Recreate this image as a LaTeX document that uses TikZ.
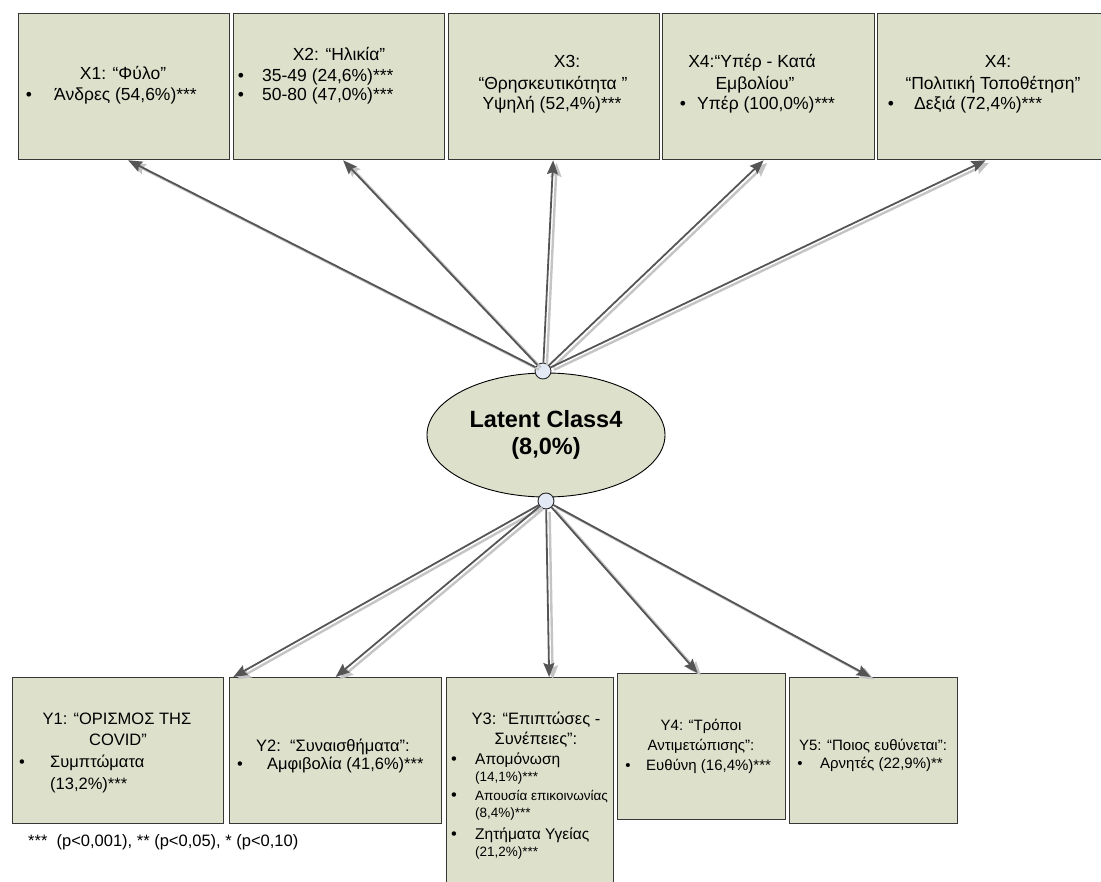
\documentclass[tikz,border=0pt]{standalone}
\usepackage{fontspec}
\setmainfont{Liberation Sans}
\usetikzlibrary{shapes.geometric,arrows.meta}
\definecolor{boxfill}{RGB}{221,225,204}
\definecolor{boxline}{RGB}{55,55,55}
\definecolor{linecol}{RGB}{85,85,85}
\definecolor{shadcol}{RGB}{196,196,196}
\definecolor{dotfill}{RGB}{228,234,245}
\begin{document}
\begin{tikzpicture}[x=1pt,y=-1pt,
  box/.style={draw=boxline, line width=1.3pt, fill=boxfill, anchor=north west, inner sep=0pt},
  ttop/.style={font=\fontsize{17.5}{20}\selectfont, inner sep=0pt, anchor=mid},
  ttopl/.style={ttop, anchor=mid west},
  tbot/.style={font=\fontsize{16.5}{19}\selectfont, inner sep=0pt, anchor=mid},
  tbotl/.style={tbot, anchor=mid west},
  tnar/.style={font=\fontsize{15}{18}\selectfont, inner sep=0pt, anchor=mid},
  tnarl/.style={tnar, anchor=mid west},
  tsml/.style={font=\fontsize{13.5}{16}\selectfont, inner sep=0pt, anchor=mid west},
  tmidl/.style={font=\fontsize{15.5}{18}\selectfont, inner sep=0pt, anchor=mid west},
  dot/.style={circle, draw=black!85, line width=0.9pt, fill=dotfill, minimum size=16pt, inner sep=0pt},
  conn/.style={draw=linecol, line width=1.8pt, -{Stealth[length=14pt,width=11pt,inset=2pt]}},
  shad/.style={draw=shadcol, line width=2.4pt, -{Stealth[length=14pt,width=11pt,inset=2pt]}, transform canvas={xshift=3.5pt,yshift=-2.5pt}}
]
\useasboundingbox (0,0) rectangle (1101,882);

% top boxes
\node[box, minimum width=211, minimum height=146] (x1) at (18,13) {};
\node[box, minimum width=211, minimum height=146] (x2) at (233,13) {};
\node[box, minimum width=211, minimum height=146] (x3) at (448,13) {};
\node[box, minimum width=212, minimum height=146] (x4) at (662,13) {};
\node[box, minimum width=228, minimum height=146] (x5) at (877,13) {};

% bottom boxes
\node[box, minimum width=211, minimum height=146] (y1) at (12,677) {};
\node[box, minimum width=212, minimum height=146] (y2) at (229,677) {};
\node[box, minimum width=167, minimum height=230] (y3) at (446,677) {};
\node[box, minimum width=168, minimum height=146] (y4) at (617,673) {};
\node[box, minimum width=168, minimum height=146] (y5) at (789,677) {};

% ellipse
\node[ellipse, draw=black, line width=0.9pt, fill=boxfill, minimum width=238pt, minimum height=124pt, inner sep=0pt,
      align=center, font=\bfseries\fontsize{23.5}{27}\selectfont] (lc) at (546,435) {Latent Class4\\(8,0\%)};

% top texts
\node[ttop] (x1a) at (123,77) {X1: “Φύλο”};
\node[ttop] (x1b) at (29,98) {•};
\node[ttopl] (x1c) at (54,98) {Άνδρες (54,6\%)***};

\node[ttop] (x2a) at (339,58) {X2: “Ηλικία”};
\node[ttop] (x2b) at (241,79) {•};
\node[ttopl] (x2c) at (262,79) {35-49 (24,6\%)***};
\node[ttop] (x2d) at (241,98) {•};
\node[ttopl] (x2e) at (262,98) {50-80 (47,0\%)***};

\node[ttop] (x3a) at (567,65) {X3:};
\node[ttop] (x3b) at (553,87) {“Θρησκευτικότητα ”};
\node[ttop] (x3c) at (552,107) {Υψηλή (52,4\%)***};

\node[ttop] (x4a) at (752,65) {X4:“Υπέρ - Κατά};
\node[ttop] (x4b) at (755,87) {Εμβολίου”};
\node[ttop] (x4c) at (683,107) {•};
\node[ttopl] (x4d) at (697,107) {Υπέρ (100,0\%)***};

\node[ttop] (x5a) at (998,65) {X4:};
\node[ttop] (x5b) at (993,87) {“Πολιτική Τοποθέτηση”};
\node[ttop] (x5c) at (891,107) {•};
\node[ttopl] (x5d) at (914,107) {Δεξιά (72,4\%)***};

% bottom texts
\node[tbot] (y1a) at (117,722) {Y1: “ΟΡΙΣΜΟΣ ΤΗΣ};
\node[tbot] (y1b) at (118,743) {COVID”};
\node[tbot] (y1c) at (22,765) {•};
\node[tbotl] (y1d) at (50,765) {Συμπτώματα};
\node[tbotl] (y1e) at (50,787) {(13,2\%)***};

\node[tbot] (y2a) at (333,749) {Y2:\ \ “Συναισθήματα”:};
\node[tbot] (y2b) at (240,767) {•};
\node[tbotl] (y2c) at (267,767) {Αμφιβολία (41,6\%)***};

\node[tbot] (y3a) at (536,722) {Y3: “Επιπτώσες -};
\node[tbot] (y3b) at (536,742) {Συνέπειες”:};
\node[tbot] (y3c) at (454,762) {•};
\node[tmidl] (y3d) at (475,762) {Απομόνωση};
\node[tsml] (y3e) at (475,779) {(14,1\%)***};
\node[tbot] (y3f) at (454,798) {•};
\node[tsml] (y3g) at (475,798) {Απουσία επικοινωνίας};
\node[tsml] (y3h) at (475,815) {(8,4\%)***};
\node[tbot] (y3i) at (454,837) {•};
\node[tmidl] (y3j) at (475,837) {Ζητήματα Υγείας};
\node[tsml] (y3k) at (475,854) {(21,2\%)***};

\node[tnar] (y4a) at (701,728) {Y4: “Τρόποι};
\node[tnar] (y4b) at (701,748) {Αντιμετώπισης”:};
\node[tnar] (y4c) at (628,768) {•};
\node[tnarl] (y4d) at (646,768) {Ευθύνη (16,4\%)***};

\node[tnar] (y5a) at (873,748) {Y5: “Ποιος ευθύνεται”:};
\node[tnar] (y5b) at (800,766) {•};
\node[tnarl] (y5c) at (820,766) {Αρνητές (22,9\%)**};

\node[tbotl] (note) at (28,844) {***\ \ (p<0,001), ** (p<0,05), * (p<0,10)};

% connection dots
\node[dot] (c1) at (543,371) {};
\node[dot] (c2) at (546,501) {};

% connectors: shadows
\draw[shad] (c1) -- ([xshift=4pt]x1.south);
\draw[shad] (c1) -- ([xshift=4pt]x2.south);
\draw[shad] (c1) -- ([xshift=-1pt]x3.south);
\draw[shad] (c1) -- ([xshift=-5pt]x4.south);
\draw[shad] (c1) -- ([xshift=-6pt]x5.south);
\draw[shad] (c2) -- ([xshift=9pt]y1.north east);
\draw[shad] (c2) -- (y2.north);
\draw[shad] (c2) -- ([xshift=19pt]y3.north);
\draw[shad] (c2) -- ([xshift=-4pt]y4.north);
\draw[shad] (c2) -- ([xshift=-3pt]y5.north);
% connectors
\draw[conn] (c1) -- ([xshift=4pt]x1.south);
\draw[conn] (c1) -- ([xshift=4pt]x2.south);
\draw[conn] (c1) -- ([xshift=-1pt]x3.south);
\draw[conn] (c1) -- ([xshift=-5pt]x4.south);
\draw[conn] (c1) -- ([xshift=-6pt]x5.south);
\draw[conn] (c2) -- ([xshift=9pt]y1.north east);
\draw[conn] (c2) -- (y2.north);
\draw[conn] (c2) -- ([xshift=19pt]y3.north);
\draw[conn] (c2) -- ([xshift=-4pt]y4.north);
\draw[conn] (c2) -- ([xshift=-3pt]y5.north);
\end{tikzpicture}
\end{document}
